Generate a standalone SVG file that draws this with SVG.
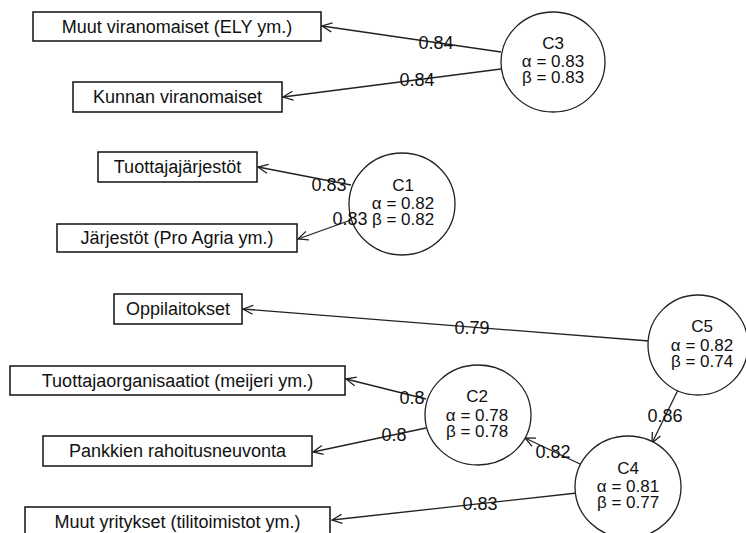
<svg xmlns="http://www.w3.org/2000/svg" width="746" height="533" viewBox="0 0 746 533">
<style>
text{font-family:"Liberation Sans",Arial,sans-serif;font-size:18px;fill:#111;text-anchor:middle}
.ct{font-size:17px}
.box{fill:#fff;stroke:#111;stroke-width:1.5}
.circ{fill:#fff;stroke:#222;stroke-width:1.3}
.edge{fill:none;stroke:#222;stroke-width:1.3;marker-end:url(#arr)}
</style>
<defs>
<marker id="arr" markerUnits="userSpaceOnUse" markerWidth="14" markerHeight="12" viewBox="-12 -6 14 12" refX="0" refY="0" orient="auto">
<path d="M-10,-4.5 L0,0 L-10,4.5" fill="none" stroke="#222" stroke-width="1.3"/>
</marker>
</defs>
<rect width="746" height="533" fill="#fff"/>
<g id="connectors">
<line class="edge" x1="501" y1="52" x2="322" y2="26"/>
<line class="edge" x1="501" y1="69" x2="283" y2="97"/>
<line class="edge" x1="351" y1="185" x2="258" y2="167"/>
<line class="edge" x1="351" y1="220" x2="298" y2="239"/>
<line class="edge" x1="649" y1="341" x2="243" y2="309"/>
<line class="edge" x1="426" y1="399" x2="346" y2="379"/>
<line class="edge" x1="426" y1="428" x2="313" y2="452"/>
<line class="edge" x1="678" y1="390" x2="652" y2="443"/>
<line class="edge" x1="580" y1="464" x2="525" y2="438"/>
<line class="edge" x1="577" y1="493" x2="332" y2="520"/>
</g>
<g id="box-muut-viranomaiset"><rect class="box" x="33" y="12" width="288" height="29"/><text x="177" y="33">Muut viranomaiset (ELY ym.)</text></g>
<g id="box-kunnan"><rect class="box" x="73" y="82" width="209" height="30"/><text x="177.5" y="103">Kunnan viranomaiset</text></g>
<g id="box-tuottajajarjestot"><rect class="box" x="98" y="152" width="159" height="30"/><text x="177.5" y="173">Tuottajajärjestöt</text></g>
<g id="box-jarjestot"><rect class="box" x="57" y="224" width="240" height="28"/><text x="177" y="244">Järjestöt (Pro Agria ym.)</text></g>
<g id="box-oppilaitokset"><rect class="box" x="114" y="294" width="128" height="30"/><text x="178" y="315">Oppilaitokset</text></g>
<g id="box-tuottajaorg"><rect class="box" x="10" y="366" width="335" height="29"/><text x="177.5" y="387">Tuottajaorganisaatiot (meijeri ym.)</text></g>
<g id="box-pankkien"><rect class="box" x="43" y="436" width="269" height="30"/><text x="177.5" y="457">Pankkien rahoitusneuvonta</text></g>
<g id="box-muut-yritykset"><rect class="box" x="25" y="507" width="305" height="30"/><text x="177.5" y="528">Muut yritykset (tilitoimistot ym.)</text></g>
<g id="C3"><ellipse class="circ" cx="553" cy="62" rx="52" ry="50"/><text class="ct" x="553" y="49">C3</text><text class="ct" x="553" y="67">α = 0.83</text><text class="ct" x="553" y="83">β = 0.83</text></g>
<g id="C1"><ellipse class="circ" cx="402" cy="204" rx="53" ry="51"/><text class="ct" x="403" y="191">C1</text><text class="ct" x="403" y="209">α = 0.82</text><text class="ct" x="403" y="225">β = 0.82</text></g>
<g id="C5"><ellipse class="circ" cx="698" cy="345" rx="50" ry="50"/><text class="ct" x="702" y="332">C5</text><text class="ct" x="702" y="351">α = 0.82</text><text class="ct" x="702" y="367">β = 0.74</text></g>
<g id="C2"><ellipse class="circ" cx="478" cy="415" rx="53" ry="50"/><text class="ct" x="477" y="402">C2</text><text class="ct" x="477" y="421">α = 0.78</text><text class="ct" x="477" y="437">β = 0.78</text></g>
<g id="C4"><ellipse class="circ" cx="628" cy="487" rx="53" ry="51"/><text class="ct" x="628" y="474">C4</text><text class="ct" x="628" y="492">α = 0.81</text><text class="ct" x="628" y="508">β = 0.77</text></g>
<g id="edge-labels">
<text x="436" y="49">0.84</text>
<text x="417" y="86">0.84</text>
<text x="329" y="191">0.83</text>
<text x="350" y="225">0.83</text>
<text x="472" y="334">0.79</text>
<text x="412" y="404">0.8</text>
<text x="394" y="441">0.8</text>
<text x="665" y="422">0.86</text>
<text x="553" y="458">0.82</text>
<text x="480" y="510">0.83</text>
</g>
</svg>
